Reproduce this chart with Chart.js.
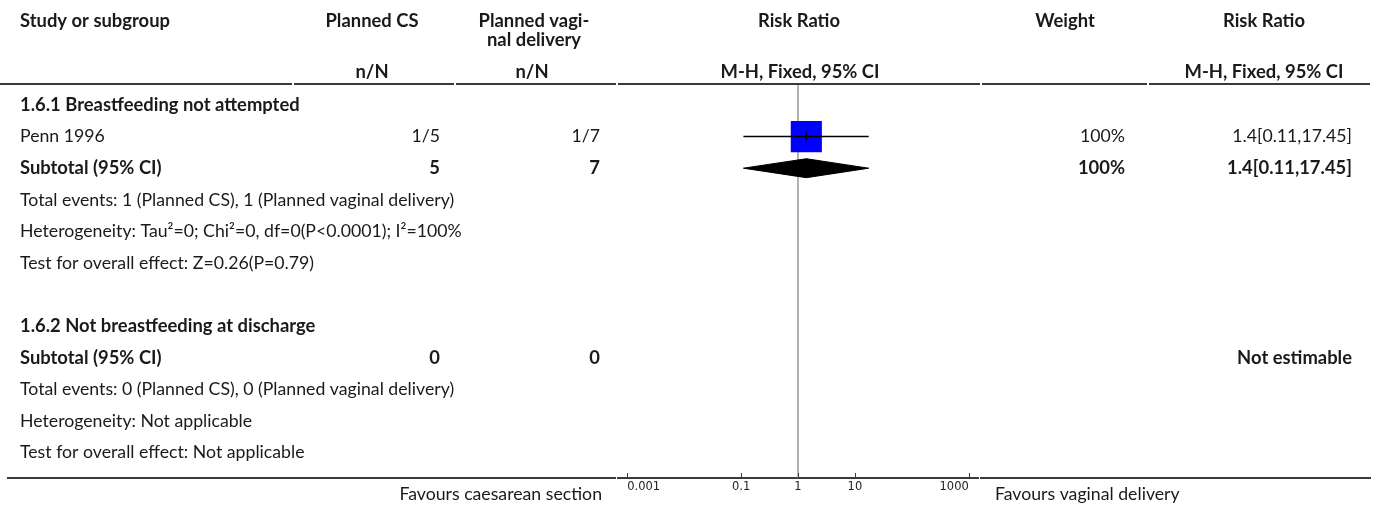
<!DOCTYPE html>
<html>
<head>
<meta charset="utf-8">
<title>Forest plot - Planned CS vs planned vaginal delivery</title>
<script src="https://cdn.jsdelivr.net/npm/chart.js@4.4.0/dist/chart.umd.min.js"></script>
<style>
  body { margin: 0; background: #fff; }
  #wrap { width: 1375px; height: 506px; }
</style>
</head>
<body>
<div id="wrap"><canvas id="forest" width="1375" height="506"></canvas></div>
<script>
// rows of the table, top to bottom
const rowLabels = [
  "1.6.1 Breastfeeding not attempted",
  "Penn 1996",
  "Subtotal (95% CI)",
  "Total events: 1 (Planned CS), 1 (Planned vaginal delivery)",
  "Heterogeneity: Tau\u00B2=0; Chi\u00B2=0, df=0(P<0.0001); I\u00B2=100%",
  "Test for overall effect: Z=0.26(P=0.79)",
  "",
  "1.6.2 Not breastfeeding at discharge",
  "Subtotal (95% CI)",
  "Total events: 0 (Planned CS), 0 (Planned vaginal delivery)",
  "Heterogeneity: Not applicable",
  "Test for overall effect: Not applicable"
];
const rowBold   = [1, 0, 1, 0, 0, 0, 0, 1, 1, 0, 0, 0];
const csEvents  = ["", "1/5", "5", "", "", "", "", "", "0", "", "", ""];
const vagEvents = ["", "1/7", "7", "", "", "", "", "", "0", "", "", ""];
const weights   = ["", "100%", "100%", "", "", "", "", "", "", "", "", ""];
const effects   = ["", "1.4[0.11,17.45]", "1.4[0.11,17.45]", "", "", "", "", "", "Not estimable", "", "", ""];

// study estimates (row index, RR, lower, upper)
const studyRows = [1];
const studyRR   = [1.4];
const studyLo   = [0.11];
const studyHi   = [17.45];

// pooled estimates
const poolRows = [2];
const poolRR   = [1.4];
const poolLo   = [0.11];
const poolHi   = [17.45];

// x axis ticks
const xTicks = [0.001, 0.1, 1, 10, 1000];
const xTickLabels = ["0.001", "0.1", "1", "10", "1000"];

const FONT = "Lato, 'Open Sans', sans-serif";
const REG = "17.7px " + FONT;
const BOLD = "bold 18.4px " + FONT;
const INK = "#1a1a1a";

// y scale: row 0 sits at 105px, rows are 31.6px apart, plot runs 84..478
const yMin = (84 - 105) / 31.6;
const yMax = (478 - 105) / 31.6;
const diamondHalf = 0.3;

const tablePlugin = {
  id: "forestTable",
  afterDraw(chart) {
    const ctx = chart.ctx;
    const ys = chart.scales.y;
    const xs = chart.scales.x;
    const area = chart.chartArea;
    ctx.save();
    ctx.fillStyle = INK;
    ctx.textBaseline = "middle";

    // header
    ctx.font = BOLD;
    ctx.textAlign = "left";
    ctx.fillText("Study or subgroup", 20, 21);
    ctx.textAlign = "center";
    ctx.fillText("Planned CS", 372, 21);
    ctx.fillText("Planned vagi-", 534, 21);
    ctx.fillText("nal delivery", 534, 40);
    ctx.fillText("Risk Ratio", 799, 21);
    ctx.fillText("Weight", 1065, 21);
    ctx.fillText("Risk Ratio", 1264, 21);
    ctx.fillText("n/N", 372, 72);
    ctx.fillText("n/N", 532, 72);
    ctx.fillText("M-H, Fixed, 95% CI", 800, 72);
    ctx.fillText("M-H, Fixed, 95% CI", 1264, 72);

    // body rows
    rowLabels.forEach((label, i) => {
      const py = ys.getPixelForValue(i);
      ctx.font = rowBold[i] ? BOLD : REG;
      ctx.textAlign = "left";
      ctx.fillText(label, 20, py);
      ctx.textAlign = "right";
      ctx.fillText(csEvents[i], 440, py);
      ctx.fillText(vagEvents[i], 600, py);
      ctx.fillText(weights[i], 1125, py);
      ctx.fillText(effects[i], 1352, py);
    });

    // favours labels
    ctx.font = REG;
    ctx.textAlign = "right";
    ctx.fillText("Favours caesarean section", 602, 494);
    ctx.textAlign = "left";
    ctx.fillText("Favours vaginal delivery", 995, 494);

    // rules
    ctx.strokeStyle = "#3a3a3a";
    ctx.lineWidth = 2;
    const cols = [0, 293, 455, 617, 981, 1148, 1371];
    ctx.beginPath();
    for (let c = 0; c < cols.length - 1; c++) {
      ctx.moveTo(cols[c] + (c ? 1 : 0), area.top);
      ctx.lineTo(cols[c + 1] - 1, area.top);
    }
    ctx.moveTo(7, area.bottom);
    ctx.lineTo(area.left - 1.5, area.bottom);
    ctx.moveTo(area.right + 1.5, area.bottom);
    ctx.lineTo(1371, area.bottom);
    ctx.stroke();

    // tick marks pointing up from the axis
    ctx.lineWidth = 1;
    ctx.beginPath();
    xs.ticks.forEach(t => {
      const px = Math.round(xs.getPixelForValue(t.value)) + 0.5;
      ctx.moveTo(px, area.bottom);
      ctx.lineTo(px, area.bottom - 5);
    });
    ctx.stroke();
    ctx.restore();
  }
};

const datasets = [];

// point estimate marks
datasets.push({
  data: studyRows.map((r, i) => ({ x: studyRR[i], y: r })),
  pointStyle: "line",
  rotation: 90,
  pointRadius: 4,
  borderColor: "#000",
  borderWidth: 1.5,
  showLine: false
});

// confidence intervals
studyRows.forEach((r, i) => {
  datasets.push({
    data: [{ x: studyLo[i], y: r }, { x: studyHi[i], y: r }],
    showLine: true,
    borderColor: "#000",
    borderWidth: 1.5,
    pointRadius: 0
  });
});

// weight boxes
datasets.push({
  data: studyRows.map((r, i) => ({ x: studyRR[i], y: r })),
  pointStyle: "rect",
  pointRadius: 22,
  backgroundColor: "#0000ff",
  borderWidth: 0,
  showLine: false
});

// pooled diamonds
poolRows.forEach((r, i) => {
  datasets.push({
    data: [
      { x: poolLo[i], y: r },
      { x: poolRR[i], y: r - diamondHalf },
      { x: poolHi[i], y: r },
      { x: poolRR[i], y: r + diamondHalf },
      { x: poolLo[i], y: r }
    ],
    showLine: true,
    fill: "shape",
    backgroundColor: "#000",
    borderColor: "#000",
    borderWidth: 1,
    pointRadius: 0,
    tension: 0
  });
});

// line of no effect
datasets.push({
  data: [{ x: 1, y: yMin }, { x: 1, y: yMax }],
  showLine: true,
  borderColor: "#9a9a9a",
  borderWidth: 1.5,
  pointRadius: 0
});

new Chart(document.getElementById("forest"), {
  type: "scatter",
  data: { datasets },
  options: {
    responsive: false,
    animation: false,
    layout: { padding: { left: 617.5, right: 396.5, top: 84, bottom: 0 } },
    plugins: { legend: { display: false }, tooltip: { enabled: false } },
    scales: {
      x: {
        type: "logarithmic",
        min: Math.pow(10, -3.17),
        max: Math.pow(10, 3.17),
        afterBuildTicks: s => { s.ticks = xTicks.map(v => ({ value: v })); },
        afterFit: s => { s.height = 28; },
        grid: { display: false, drawTicks: false },
        border: { display: true, color: "#3a3a3a", width: 2 },
        ticks: {
          align: "inner",
          autoSkip: false,
          maxRotation: 0,
          padding: 2,
          color: "#222",
          font: { family: "DejaVu Sans", size: 11.5 },
          callback: (v, i) => xTickLabels[i]
        }
      },
      y: {
        type: "linear",
        reverse: true,
        min: yMin,
        max: yMax,
        display: false
      }
    }
  },
  plugins: [tablePlugin]
});
</script>
</body>
</html>
